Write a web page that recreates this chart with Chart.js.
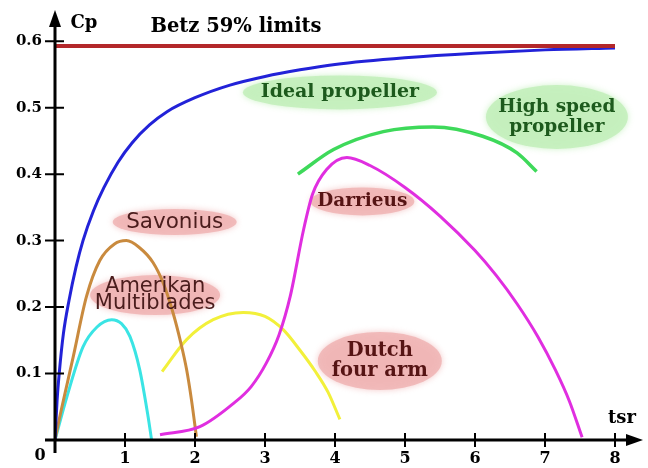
<!DOCTYPE html>
<html>
<head>
<meta charset="utf-8">
<script src="https://cdn.jsdelivr.net/npm/chart.js@4.4.1/dist/chart.umd.min.js"></script>
<style>
  body { margin: 0; background: #fff; }
  #wrap { width: 648px; height: 468px; position: relative; }
</style>
</head>
<body>
<div id="wrap"><canvas id="cpChart"></canvas></div>
<script>
// axis ticks
const tsrTicks = [1, 2, 3, 4, 5, 6, 7, 8];
const cpTicks = [0.1, 0.2, 0.3, 0.4, 0.5, 0.6];

// Betz limit
const betzX = [0, 8];
const betzY = [0.593, 0.593];

// ideal propeller
const idealX = [0, 0.03, 0.06, 0.12, 0.2, 0.3, 0.4, 0.55, 0.7, 0.9, 1.1, 1.35, 1.6, 2, 2.5, 3, 3.5, 4, 5, 6, 7, 8];
const idealY = [0, 0.06, 0.1, 0.16, 0.21, 0.26, 0.3, 0.345, 0.38, 0.418, 0.447, 0.474, 0.494, 0.515, 0.534, 0.547, 0.557, 0.565, 0.575, 0.582, 0.587, 0.59];

// high speed propeller
const highSpeedX = [3.47, 3.98, 4.69, 5.4, 6.11, 6.6, 6.88];
const highSpeedY = [0.4, 0.437, 0.464, 0.471, 0.457, 0.432, 0.404];

// Darrieus
const darrieusX = [1.5, 2.07, 2.55, 2.8, 3.02, 3.2, 3.36, 3.55, 3.68, 3.88, 4.17, 4.5, 5.0, 5.5, 6.0, 6.3, 6.6, 6.9, 7.15, 7.35, 7.53];
const darrieusY = [0.008, 0.02, 0.055, 0.08, 0.116, 0.158, 0.216, 0.316, 0.37, 0.407, 0.425, 0.413, 0.38, 0.337, 0.285, 0.248, 0.205, 0.155, 0.105, 0.058, 0.004];

// Savonius
const savoniusX = [0, 0.05, 0.26, 0.45, 0.64, 0.85, 1.02, 1.2, 1.4, 1.55, 1.69, 1.8, 1.88, 1.95, 2.02];
const savoniusY = [0, 0.026, 0.125, 0.216, 0.27, 0.295, 0.3, 0.29, 0.267, 0.235, 0.19, 0.145, 0.106, 0.06, 0.005];

// American multiblade
const multiX = [0, 0.17, 0.4, 0.6, 0.81, 0.95, 1.07, 1.21, 1.33, 1.38];
const multiY = [0, 0.065, 0.14, 0.17, 0.181, 0.175, 0.156, 0.106, 0.035, 0];

// Dutch four arm
const dutchX = [1.53, 1.88, 2.26, 2.69, 3.0, 3.26, 3.5, 3.72, 3.9, 4.07];
const dutchY = [0.103, 0.151, 0.181, 0.192, 0.186, 0.166, 0.135, 0.103, 0.072, 0.031];

function pts(xs, ys) {
    return xs.map((x, i) => ({ x: x, y: ys[i] }));
}

const serif = '"DejaVu Serif", serif';
const sans = '"DejaVu Sans", sans-serif';
const greenFill = 'rgba(196, 240, 188, 0.9)';
const pinkFill = 'rgba(240, 180, 180, 0.85)';

// labels drawn on the chart, positioned in data units
const notes = [
    { lines: ['Ideal propeller'], x: 4.07, y: 0.523, rx: 97, ry: 17, fill: greenFill, color: '#1d5a1d', font: 'bold 19px ' + serif, gap: 20 },
    { lines: ['High speed', 'propeller'], x: 7.17, y: 0.486, rx: 71, ry: 32, fill: greenFill, color: '#1d5a1d', font: 'bold 18.5px ' + serif, gap: 20 },
    { lines: ['Darrieus'], x: 4.39, y: 0.359, rx: 52, ry: 14, fill: pinkFill, color: '#561414', font: 'bold 18.5px ' + serif, gap: 20 },
    { lines: ['Savonius'], x: 1.71, y: 0.328, rx: 62, ry: 13, fill: pinkFill, color: '#4a1c1c', font: '21.5px ' + sans, gap: 17 },
    { lines: ['Amerikan', 'Multiblades'], x: 1.43, y: 0.218, rx: 65, ry: 20, fill: pinkFill, color: '#4a1c1c', font: '21px ' + sans, gap: 17 },
    { lines: ['Dutch', 'four arm'], x: 4.64, y: 0.119, rx: 62, ry: 29, fill: pinkFill, color: '#561414', font: 'bold 19.5px ' + serif, gap: 20 }
];

const drawPlugin = {
    id: 'cpDecor',
    beforeDatasetsDraw(chart) {
        const c = chart.ctx;
        const xs = chart.scales.x, ys = chart.scales.y;
        c.save();
        notes.forEach(n => {
            c.fillStyle = n.fill;
            c.shadowColor = n.fill;
            c.shadowBlur = 6;
            c.beginPath();
            c.ellipse(xs.getPixelForValue(n.x), ys.getPixelForValue(n.y), n.rx, n.ry, 0, 0, Math.PI * 2);
            c.fill();
        });
        c.restore();
    },
    afterDatasetsDraw(chart) {
        const c = chart.ctx;
        const xs = chart.scales.x, ys = chart.scales.y;
        const x0 = xs.getPixelForValue(0), y0 = ys.getPixelForValue(0);
        const top = chart.chartArea.top, right = chart.chartArea.right;
        c.save();
        c.strokeStyle = '#000';
        c.fillStyle = '#000';
        c.lineWidth = 3;
        // axes
        c.beginPath();
        c.moveTo(x0 - 10, y0);
        c.lineTo(right - 12, y0);
        c.moveTo(x0, y0 + 13);
        c.lineTo(x0, top + 14);
        c.stroke();
        // arrow heads
        c.beginPath();
        c.moveTo(right, y0);
        c.lineTo(right - 17, y0 - 6);
        c.lineTo(right - 17, y0 + 6);
        c.closePath();
        c.fill();
        c.beginPath();
        c.moveTo(x0, top);
        c.lineTo(x0 - 6, top + 17);
        c.lineTo(x0 + 6, top + 17);
        c.closePath();
        c.fill();
        // tick marks crossing the axes
        c.lineWidth = 2;
        c.beginPath();
        tsrTicks.forEach(v => {
            const px = xs.getPixelForValue(v);
            c.moveTo(px, y0 - 7);
            c.lineTo(px, y0 + 7);
        });
        cpTicks.forEach(v => {
            const py = ys.getPixelForValue(v);
            c.moveTo(x0 - 10, py);
            c.lineTo(x0 + 9, py);
        });
        c.stroke();

        // free text
        c.textAlign = 'center';
        c.textBaseline = 'middle';
        c.font = 'bold 19.5px ' + serif;
        c.fillText('Betz 59% limits', 236, 27);
        c.font = 'bold 18px ' + serif;
        c.fillText('Cp', x0 + 29, 23);
        c.fillText('tsr', right - 21, y0 - 22);
        c.font = 'bold 16px ' + serif;
        c.fillText('0', x0 - 15, y0 + 16);

        notes.forEach(n => {
            const cx = xs.getPixelForValue(n.x), cy = ys.getPixelForValue(n.y);
            c.fillStyle = n.color;
            c.font = n.font;
            const start = cy - (n.lines.length - 1) * n.gap / 2;
            n.lines.forEach((t, i) => c.fillText(t, cx, start + i * n.gap));
        });
        c.restore();
    }
};

function makeSet(label, xs, ys, color, width) {
    return {
        label: label,
        data: pts(xs, ys),
        borderColor: color,
        backgroundColor: color,
        borderWidth: width,
        showLine: true,
        pointRadius: 0,
        cubicInterpolationMode: 'monotone'
    };
}

// drop the extra room Chart.js keeps for edge tick labels
function noEdgePad(s) {
    s.paddingTop = 0;
    s.paddingBottom = 0;
    s.paddingLeft = 0;
    s.paddingRight = 0;
}

const ctx = document.getElementById('cpChart').getContext('2d');
const cpChart = new Chart(ctx, {
    type: 'scatter',
    data: {
        datasets: [
            makeSet('Betz 59% limits', betzX, betzY, '#b3272a', 4),
            makeSet('Ideal propeller', idealX, idealY, '#2222d8', 3),
            makeSet('High speed propeller', highSpeedX, highSpeedY, '#3ed95a', 3.5),
            makeSet('Darrieus', darrieusX, darrieusY, '#e02ee0', 3),
            makeSet('Savonius', savoniusX, savoniusY, '#c98a3e', 3),
            makeSet('Amerikan Multiblades', multiX, multiY, '#3ae4e4', 3),
            makeSet('Dutch four arm', dutchX, dutchY, '#f2f03a', 3)
        ]
    },
    options: {
        responsive: true,
        maintainAspectRatio: false,
        animation: false,
        layout: { padding: { top: 10, right: 5, left: 0, bottom: 0 } },
        plugins: {
            legend: { display: false },
            tooltip: { enabled: false }
        },
        scales: {
            x: {
                type: 'linear',
                min: 0,
                max: 8.4,
                afterBuildTicks: s => { s.ticks = tsrTicks.map(v => ({ value: v })); },
                afterFit: s => { s.height = 28; noEdgePad(s); },
                grid: { display: false, drawTicks: false },
                border: { display: false },
                ticks: { color: '#000', padding: 9, font: { family: 'DejaVu Serif', weight: 'bold', size: 16 } }
            },
            y: {
                type: 'linear',
                min: 0,
                max: 0.647,
                afterBuildTicks: s => { s.ticks = cpTicks.map(v => ({ value: v })); },
                afterFit: s => { s.width = 55; noEdgePad(s); },
                grid: { display: false, drawTicks: false },
                border: { display: false },
                ticks: {
                    color: '#000',
                    padding: 13,
                    font: { family: 'DejaVu Serif', weight: 'bold', size: 15 },
                    callback: v => v.toFixed(1)
                }
            }
        }
    },
    plugins: [drawPlugin]
});
</script>
</body>
</html>
